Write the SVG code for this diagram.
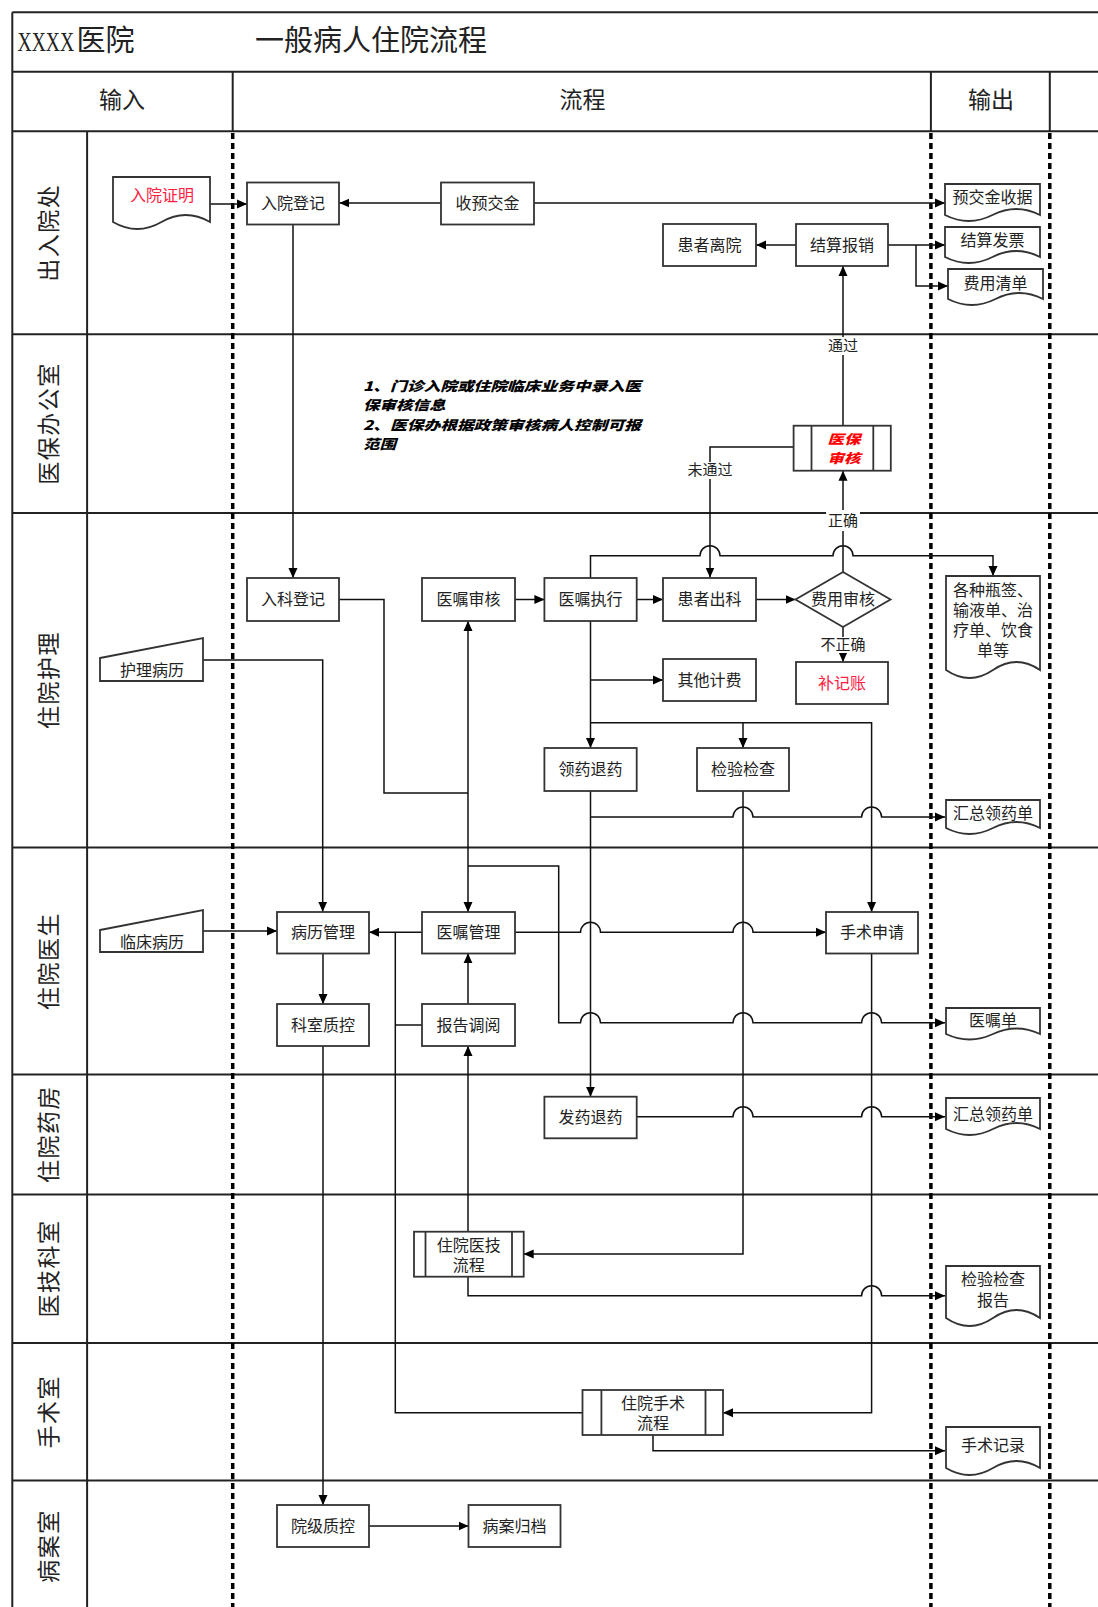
<svg xmlns="http://www.w3.org/2000/svg" width="1098" height="1607" viewBox="0 0 1098 1607">
<defs>
<marker id="arr" viewBox="0 0 10 10" refX="10" refY="5" markerWidth="10" markerHeight="10" markerUnits="userSpaceOnUse" orient="auto"><path d="M0,0.5 L10,5 L0,9.5 z" fill="#000"/></marker>
<style>
.lane{stroke:#222;stroke-width:2;fill:none}
.dash{stroke:#000;stroke-width:3.5;stroke-dasharray:6 4;fill:none}
.box{fill:#fff;stroke:#333;stroke-width:1.8}
.t{font-family:"Liberation Serif","Noto Sans CJK SC",serif;font-size:16px;fill:#222;text-anchor:middle;dominant-baseline:central}
.h{font-family:"Liberation Serif","Noto Sans CJK SC",serif;font-size:23px;fill:#222;text-anchor:middle;dominant-baseline:central}
.red{fill:#ff2040}
.note{font-family:"Noto Sans CJK SC",sans-serif;font-size:16.5px;font-weight:900;font-style:italic;fill:#000;dominant-baseline:central}
.yb{font-family:"Noto Sans CJK SC",sans-serif;font-size:16.5px;font-weight:900;font-style:italic;fill:#ff0000;text-anchor:middle;dominant-baseline:central}
.lbl{font-family:"Liberation Serif","Noto Sans CJK SC",serif;font-size:15px;fill:#222;text-anchor:middle;dominant-baseline:central}
.c{stroke:#111;stroke-width:1.5;fill:none}
.ca{stroke:#111;stroke-width:1.5;fill:none;marker-end:url(#arr)}
</style>
</defs>
<rect width="1098" height="1607" fill="#fff"/>

<g id="frame">
<line class="lane" x1="12.3" y1="12.3" x2="1098" y2="12.3"/>
<line class="lane" x1="12.3" y1="12.3" x2="12.3" y2="1607"/>
<line class="lane" x1="12.3" y1="71.8" x2="1098" y2="71.8"/>
<line class="lane" x1="12.3" y1="131.2" x2="1098" y2="131.2"/>
<line class="lane" x1="232.7" y1="71.8" x2="232.7" y2="131.2"/>
<line class="lane" x1="930.9" y1="71.8" x2="930.9" y2="131.2"/>
<line class="lane" x1="1049.8" y1="71.8" x2="1049.8" y2="131.2"/>
<line class="lane" x1="87.1" y1="131.2" x2="87.1" y2="1607"/>
<line class="lane" x1="12.3" y1="334.2" x2="1098" y2="334.2"/>
<line class="lane" x1="12.3" y1="513" x2="1098" y2="513"/>
<line class="lane" x1="12.3" y1="847.5" x2="1098" y2="847.5"/>
<line class="lane" x1="12.3" y1="1074.4" x2="1098" y2="1074.4"/>
<line class="lane" x1="12.3" y1="1194.4" x2="1098" y2="1194.4"/>
<line class="lane" x1="12.3" y1="1343" x2="1098" y2="1343"/>
<line class="lane" x1="12.3" y1="1480.4" x2="1098" y2="1480.4"/>
<line class="dash" x1="232.7" y1="133" x2="232.7" y2="1607"/>
<line class="dash" x1="930.9" y1="133" x2="930.9" y2="1607"/>
<line class="dash" x1="1049.8" y1="133" x2="1049.8" y2="1607"/>
<text transform="translate(17.5,41) scale(0.7,1)" font-family="Liberation Serif,serif" font-size="28" fill="#222" dominant-baseline="central">XXXX</text>
<text x="76.5" y="41" font-family="Liberation Serif,'Noto Sans CJK SC',serif" font-size="29" fill="#222" dominant-baseline="central">医院</text>
<text x="371" y="41" font-family="Liberation Serif,'Noto Sans CJK SC',serif" font-size="29" fill="#222" text-anchor="middle" dominant-baseline="central">一般病人住院流程</text>
<text class="h" x="122" y="100">输入</text>
<text class="h" x="582.5" y="100">流程</text>
<text class="h" x="991" y="100">输出</text>
<g class="h" letter-spacing="1.5">
<text transform="translate(49,232.7) rotate(-90)">出入院处</text>
<text transform="translate(49,423.5) rotate(-90)">医保办公室</text>
<text transform="translate(49,680) rotate(-90)">住院护理</text>
<text transform="translate(49,961) rotate(-90)">住院医生</text>
<text transform="translate(49,1134) rotate(-90)">住院药房</text>
<text transform="translate(49,1268.5) rotate(-90)">医技科室</text>
<text transform="translate(49,1411.7) rotate(-90)">手术室</text>
<text transform="translate(49,1546) rotate(-90)">病案室</text>
</g>
</g>

<g id="connectors">
<path class="ca" d="M210,204 H247"/>
<path class="ca" d="M440.7,203 H339.3"/>
<path class="ca" d="M533.7,203 H945"/>
<path class="ca" d="M796,245 H756"/>
<path class="ca" d="M888,245 H945"/>
<path class="ca" d="M916,245 V286 H948"/>
<path class="ca" d="M843,425.7 V266"/>
<path class="ca" d="M793.6,447 H710 V577.5"/>
<path class="ca" d="M843,572 V470.7"/>
<path class="ca" d="M843,627 V662"/>
<path class="ca" d="M293,224.5 V578"/>
<path class="ca" d="M515,599.5 H544.4"/>
<path class="ca" d="M636.7,599.5 H663"/>
<path class="ca" d="M756,599.5 H795.5"/>
<path class="ca" d="M590.5,578 V555.7 H700 A10,10 0 0 1 720,555.7 H833 A10,10 0 0 1 853,555.7 H993 V576"/>
<path class="ca" d="M590.5,621 V748"/>
<path class="ca" d="M590.5,680 H663"/>
<path class="ca" d="M590.5,722.7 H871.6 V912"/>
<path class="ca" d="M743,722.7 V748"/>
<path class="ca" d="M590.5,791 V1096.7"/>
<path class="ca" d="M590.5,817 H733 A10,10 0 0 1 753,817 H861.6 A10,10 0 0 1 881.6,817 H945"/>
<path class="ca" d="M743,791 V1254 H523.7"/>
<path class="c" d="M339,599.5 H384 V793 H468"/>
<path class="ca" d="M468,793 V621"/>
<path class="ca" d="M468,793 V912"/>
<path class="ca" d="M468,866 H558.7 V1022.7 H580.5 A10,10 0 0 1 600.5,1022.7 H733 A10,10 0 0 1 753,1022.7 H861.6 A10,10 0 0 1 881.6,1022.7 H945"/>
<path class="ca" d="M203,660 H322.7 V911.7"/>
<path class="ca" d="M203,931 H277"/>
<path class="ca" d="M422,932.3 H369"/>
<path class="c" d="M582.5,1412.7 H395.3 V932.3"/>
<path class="c" d="M422,1025 H395.3"/>
<path class="ca" d="M515,932.3 H580.5 A10,10 0 0 1 600.5,932.3 H733 A10,10 0 0 1 753,932.3 H826"/>
<path class="ca" d="M323,953.3 V1004"/>
<path class="ca" d="M468,1004 V953.3"/>
<path class="ca" d="M468,1231.7 V1046"/>
<path class="ca" d="M871.6,953.3 V1412.7 H723"/>
<path class="ca" d="M636.7,1116.7 H733 A10,10 0 0 1 753,1116.7 H861.6 A10,10 0 0 1 881.6,1116.7 H945"/>
<path class="ca" d="M468,1276.7 V1295.7 H861.6 A10,10 0 0 1 881.6,1295.7 H945"/>
<path class="ca" d="M653,1435 V1450.7 H945"/>
<path class="ca" d="M323,1046 V1505"/>
<path class="ca" d="M369,1526 H468.5"/>
<rect x="826" y="337" width="34" height="18" fill="#fff"/>
<text class="lbl" x="843" y="346">通过</text>
<rect x="686" y="462" width="48" height="17" fill="#fff"/>
<text class="lbl" x="710" y="470">未通过</text>
<rect x="826" y="510" width="34" height="21" fill="#fff"/>
<text class="lbl" x="843" y="521">正确</text>
<rect x="819" y="637" width="48" height="16" fill="#fff"/>
<text class="lbl" x="843" y="645">不正确</text>
</g>

<g id="n-ruyuanzhengming"><path class="box" d="M113,177 H210 V222 Q185.75,208 161.5,222 T113,222 Z"/><text class="t red" x="162" y="195">入院证明</text></g>
<g id="n-ruyuandengji"><rect class="box" x="247" y="182.5" width="92" height="42"/><text class="t" x="293" y="203.5">入院登记</text></g>
<g id="n-shouyujiaojin"><rect class="box" x="441" y="182.5" width="93" height="42"/><text class="t" x="487.5" y="203.5">收预交金</text></g>
<g id="n-yujiaojinshouju"><path class="box" d="M945,184 H1040 V215 Q1016.25,203 992.5,215 T945,215 Z"/><text class="t" x="992.5" y="197">预交金收据</text></g>
<g id="n-huanzheliyuan"><rect class="box" x="663" y="224" width="93" height="42"/><text class="t" x="709.5" y="245">患者离院</text></g>
<g id="n-jiesuanbaoxiao"><rect class="box" x="796" y="224" width="92" height="42"/><text class="t" x="842" y="245">结算报销</text></g>
<g id="n-jiesuanfapiao"><path class="box" d="M945,227 H1040 V257 Q1016.25,245 992.5,257 T945,257 Z"/><text class="t" x="992.5" y="240">结算发票</text></g>
<g id="n-feiyongqingdan"><path class="box" d="M948,269 H1043 V299 Q1019.25,287 995.5,299 T948,299 Z"/><text class="t" x="995.5" y="283">费用清单</text></g>

<g id="n-note">
<text class="note" transform="translate(363,385) scale(1,0.8)" textLength="278" lengthAdjust="spacingAndGlyphs">1、门诊入院或住院临床业务中录入医</text>
<text class="note" transform="translate(363,404.5) scale(1,0.8)">保审核信息</text>
<text class="note" transform="translate(363,424) scale(1,0.8)" textLength="278" lengthAdjust="spacingAndGlyphs">2、医保办根据政策审核病人控制可报</text>
<text class="note" transform="translate(363,443.5) scale(1,0.8)">范围</text>
</g>
<g id="n-yibaoshenhe"><rect class="box" x="793.6" y="425.7" width="97.2" height="45"/><line class="box" x1="811.5" y1="425.7" x2="811.5" y2="470.7"/><line class="box" x1="873.3" y1="425.7" x2="873.3" y2="470.7"/>
<text class="yb" transform="translate(844,438) scale(1,0.78)">医保</text>
<text class="yb" transform="translate(844,457.5) scale(1,0.78)">审核</text></g>

<g id="n-rukedengji"><rect class="box" x="247" y="578" width="92" height="43"/><text class="t" x="293" y="599.5">入科登记</text></g>
<g id="n-yizhushenhe"><rect class="box" x="422" y="578" width="93" height="43"/><text class="t" x="468.5" y="599.5">医嘱审核</text></g>
<g id="n-yizhuzhixing"><rect class="box" x="544.4" y="578" width="92.3" height="43"/><text class="t" x="590.5" y="599.5">医嘱执行</text></g>
<g id="n-huanzhechuke"><rect class="box" x="663" y="578" width="93" height="43"/><text class="t" x="709.5" y="599.5">患者出科</text></g>
<g id="n-feiyongshenhe"><path class="box" d="M843,572 L890.5,599.5 L843,627 L795.5,599.5 Z"/><text class="t" x="843" y="599.5">费用审核</text></g>
<g id="n-qitajifei"><rect class="box" x="663" y="659" width="93" height="42"/><text class="t" x="709.5" y="680">其他计费</text></g>
<g id="n-bujizhang"><rect class="box" x="796" y="662" width="92" height="42"/><text class="t red" x="842" y="683">补记账</text></g>
<g id="n-lingyaotuiyao"><rect class="box" x="544.4" y="748" width="92.3" height="43"/><text class="t" x="590.5" y="769.5">领药退药</text></g>
<g id="n-jianyanjiancha"><rect class="box" x="697" y="748" width="92" height="43"/><text class="t" x="743" y="769.5">检验检查</text></g>
<g id="n-gezhongpingqian"><path class="box" d="M946,576 H1040 V670 Q1016.5,654 993,670 T946,670 Z"/>
<text class="t" x="993" y="590">各种瓶签、</text><text class="t" x="993" y="610">输液单、治</text><text class="t" x="993" y="630">疗单、饮食</text><text class="t" x="993" y="650">单等</text></g>
<g id="n-huizonglingyaodan1"><path class="box" d="M946,800 H1040 V828 Q1016.5,816 993,828 T946,828 Z"/><text class="t" x="993" y="813">汇总领药单</text></g>
<g id="n-hulibingli"><path class="box" d="M100,658 L203,638 L203,681 L100,681 Z"/><text class="t" x="152" y="670">护理病历</text></g>

<g id="n-linchuangbingli"><path class="box" d="M100,930 L203,910 L203,952 L100,952 Z"/><text class="t" x="152" y="942">临床病历</text></g>
<g id="n-bingliguanli"><rect class="box" x="277" y="912" width="92" height="41.5"/><text class="t" x="323" y="932.5">病历管理</text></g>
<g id="n-yizhuguanli"><rect class="box" x="422" y="912" width="93" height="41.5"/><text class="t" x="468.5" y="932.5">医嘱管理</text></g>
<g id="n-shoushushenqing"><rect class="box" x="826" y="912" width="92" height="41.5"/><text class="t" x="872" y="932.5">手术申请</text></g>
<g id="n-keshizhikong"><rect class="box" x="277" y="1004" width="92" height="42"/><text class="t" x="323" y="1025">科室质控</text></g>
<g id="n-baogaodiaoyue"><rect class="box" x="422" y="1004" width="93" height="42"/><text class="t" x="468.5" y="1025">报告调阅</text></g>
<g id="n-yizhudan"><path class="box" d="M946,1008 H1040 V1034 Q1016.5,1023 993,1034 T946,1034 Z"/><text class="t" x="993" y="1020">医嘱单</text></g>

<g id="n-fayaotuiyao"><rect class="box" x="544.4" y="1096.7" width="92.3" height="41.6"/><text class="t" x="590.5" y="1117.5">发药退药</text></g>
<g id="n-huizonglingyaodan2"><path class="box" d="M946,1098 H1040 V1129 Q1016.5,1117 993,1129 T946,1129 Z"/><text class="t" x="993" y="1114">汇总领药单</text></g>

<g id="n-zhuyuanyiji"><rect class="box" x="414" y="1231.7" width="109.7" height="45"/><line class="box" x1="425.5" y1="1231.7" x2="425.5" y2="1276.7"/><line class="box" x1="512" y1="1231.7" x2="512" y2="1276.7"/>
<text class="t" x="468.8" y="1245">住院医技</text><text class="t" x="468.8" y="1265">流程</text></g>
<g id="n-jianyanbaogao"><path class="box" d="M946,1266 H1040 V1318 Q1016.5,1302 993,1318 T946,1318 Z"/><text class="t" x="993" y="1279">检验检查</text><text class="t" x="993" y="1300">报告</text></g>

<g id="n-zhuyuanshoushu"><rect class="box" x="582.5" y="1390" width="140.5" height="45"/><line class="box" x1="601.4" y1="1390" x2="601.4" y2="1435"/><line class="box" x1="705.5" y1="1390" x2="705.5" y2="1435"/>
<text class="t" x="653" y="1403">住院手术</text><text class="t" x="653" y="1423">流程</text></g>
<g id="n-shoushujilu"><path class="box" d="M946,1427 H1040 V1468 Q1016.5,1454 993,1468 T946,1468 Z"/><text class="t" x="993" y="1445">手术记录</text></g>

<g id="n-yuanjizhikong"><rect class="box" x="277" y="1505" width="92" height="42"/><text class="t" x="323" y="1526">院级质控</text></g>
<g id="n-binganguidang"><rect class="box" x="468.5" y="1505" width="92" height="42"/><text class="t" x="514.5" y="1526">病案归档</text></g>
</svg>
